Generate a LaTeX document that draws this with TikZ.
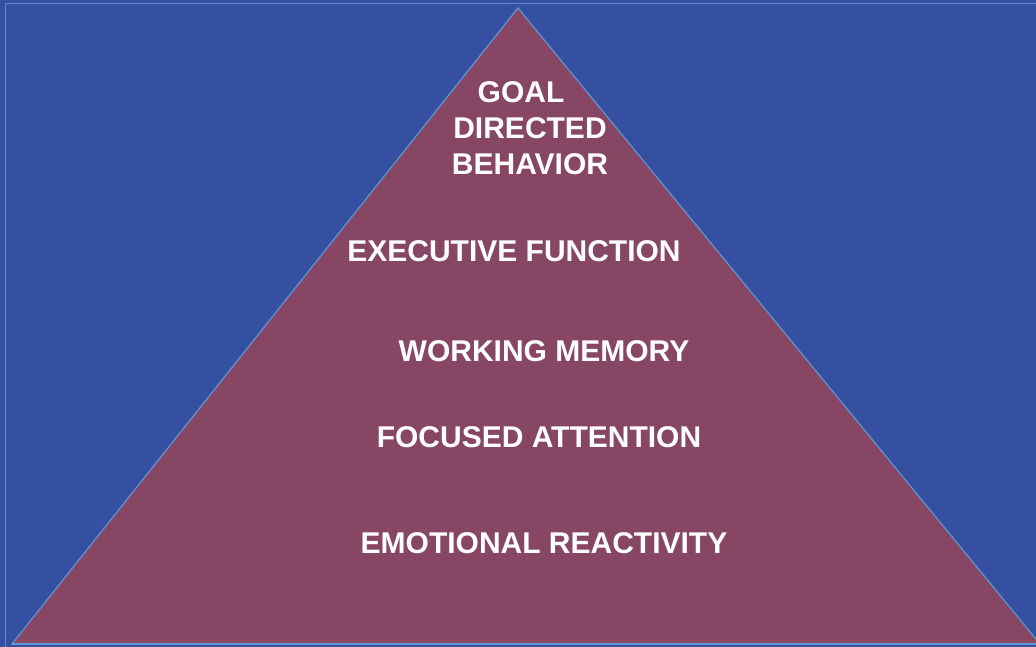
\documentclass[tikz,border=0pt]{standalone}
\usepackage{fontspec}
\setmainfont{Liberation Sans}

\definecolor{bgblue}{RGB}{53,80,160}
\definecolor{pyrfill}{RGB}{134,70,100}
\definecolor{pyredge}{RGB}{95,150,210}
\definecolor{framelight}{RGB}{105,130,200}

\tikzset{level/.style={text=white, font=\bfseries\fontsize{30}{36}\selectfont, align=center}}

\begin{document}
\begin{tikzpicture}[x=1pt,y=-1pt]
\fill[bgblue](0,0) rectangle (1036,647);
\useasboundingbox (0,0) rectangle (1036,647);
% thin frame on top and left
 \draw[framelight, line width=1pt](5,647)--(5,4)--(1036,4);

\coordinate (top) at (518,8);
\coordinate (left) at (12,644);
\coordinate (right) at (1040,644);
\filldraw[fill=pyrfill, draw=pyredge, line width=1.2pt](left)--(top)--(right)--cycle;
\draw[pyredge, line width=1.5pt](left)--(1036,644);

 \node[level] at (530, 128)   (goal) {\hspace*{-18pt}GOAL\\DIRECTED\\BEHAVIOR};
 \node[level] at (514, 251)   (exec) {EXECUTIVE FUNCTION};
 \node[level] at (544, 351)   (mem) {WORKING MEMORY};
 \node[level] at (539, 437)   (att) {FOCUSED ATTENTION};
 \node[level] at (544, 543)   (emo) {EMOTIONAL REACTIVITY};

\end{tikzpicture}
\end{document}
